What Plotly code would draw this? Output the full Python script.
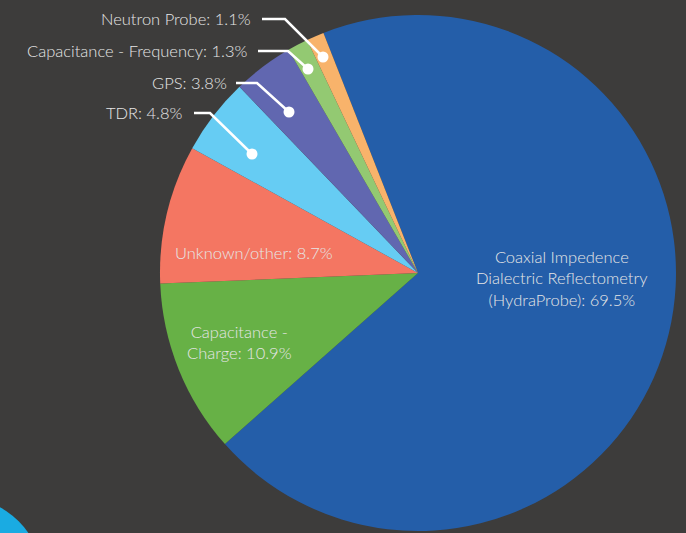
import plotly.graph_objects as go

W, H = 686, 533

labels = ["Coaxial Impedence Dialectric Reflectometry (HydraProbe)",
          "Capacitance - Charge", "Unknown/other", "TDR", "GPS",
          "Capacitance - Frequency", "Neutron Probe"]
values = [69.5, 10.9, 8.7, 4.8, 3.8, 1.3, 1.1]
colors = ["#245ea9", "#67b146", "#f47662", "#66ccf3", "#6167b0", "#93c972", "#f8b36b"]

# inside labels: text, center x, center y
inside_text = {
    0: ("Coaxial Impedence<br>Dialectric Reflectometry<br>(HydraProbe): 69.5%", 562, 278),
    1: ("Capacitance -<br>Charge: 10.9%", 239, 342),
    2: ("Unknown/other: 8.7%", 254, 253),
}
# outside labels: text right edge, y, line start x, bend x, dot x, dot y
outside = {
    6: (252, 19, 262, 285, 323, 57),
    5: (249, 51, 258, 288, 308, 69),
    4: (228, 83, 236, 257, 289, 112),
    3: (184, 113, 194, 210, 252, 154),
}

def px(x):
    return x / W

def py(y):
    return 1 - y / H

fig = go.Figure(go.Pie(
    labels=labels, values=values, sort=False, direction="clockwise",
    rotation=-21.5, textinfo="none", hoverinfo="label+percent",
    marker=dict(colors=colors, line=dict(width=0)),
    domain=dict(x=[160 / W, 676 / W], y=[2 / H, 518 / H]),
    showlegend=False,
))

font_in = dict(family="Lato", size=16.5, color="#e6e6e6", weight=300)
annotations = []
shapes = []
for i, (txt, x, y) in inside_text.items():
    annotations.append(dict(text=txt, x=px(x), y=py(y), xref="paper", yref="paper",
                            showarrow=False, font=font_in, align="center",
                            xanchor="center", yanchor="middle", borderpad=0))
for i, (tx, ty, lx, bx, dx, dy) in outside.items():
    annotations.append(dict(text=f"{labels[i]}: {values[i]}%", x=px(tx), y=py(ty),
                            xref="paper", yref="paper", showarrow=False,
                            font=font_in, xanchor="right", yanchor="middle", borderpad=0))
    shapes.append(dict(type="path", xref="paper", yref="paper",
                       path=f"M {px(lx)},{py(ty)} L {px(bx)},{py(ty)} L {px(dx)},{py(dy)}",
                       line=dict(color="white", width=2.5)))
    r = 5.5
    shapes.append(dict(type="circle", xref="paper", yref="paper",
                       x0=px(dx - r), x1=px(dx + r), y0=py(dy + r), y1=py(dy - r),
                       fillcolor="white", line=dict(width=0)))

# decorative cyan circle at bottom-left corner
cr = 83
shapes.append(dict(type="circle", xref="paper", yref="paper",
                   x0=px(-40 - cr), x1=px(-40 + cr), y0=py(580 + cr), y1=py(580 - cr),
                   fillcolor="#1aabe2", line=dict(width=0), layer="below"))

fig.update_layout(
    width=W, height=H, margin=dict(l=0, r=0, t=0, b=0),
    paper_bgcolor="#3d3c3b", plot_bgcolor="#3d3c3b",
    annotations=annotations, shapes=shapes,
)
fig.write_html("out.html")
